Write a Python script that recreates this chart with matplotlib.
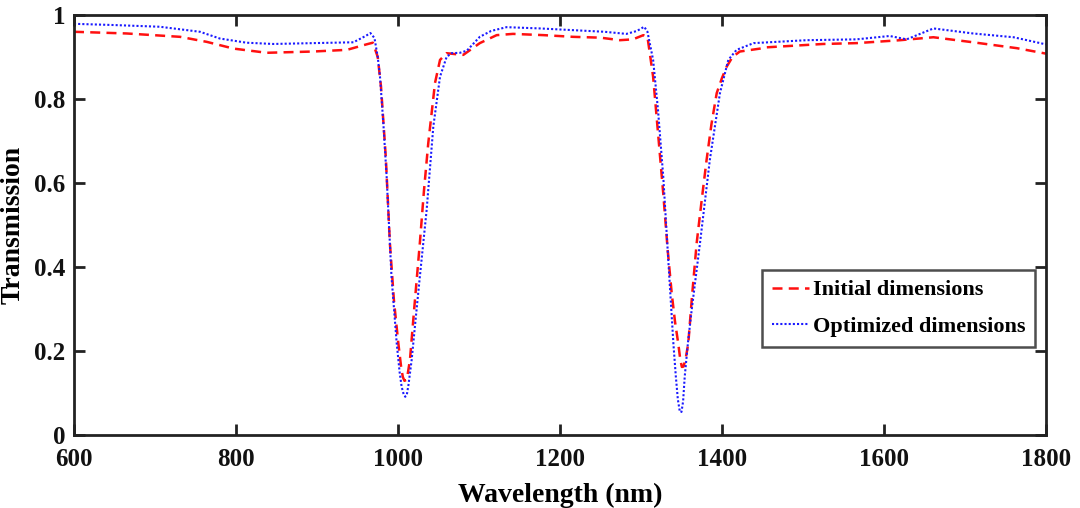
import matplotlib
matplotlib.use("Agg")
import matplotlib.pyplot as plt

# Initial dimensions (red dashed)
wl_init = [600, 665, 731, 764, 797, 838, 895, 937, 961, 969, 975, 979, 985, 990, 995,
           1000.4, 1004, 1006, 1008, 1010, 1012, 1014.8, 1020, 1027, 1032, 1037.4, 1045.7,
           1051.9, 1060, 1070, 1080.6, 1101, 1121.8, 1142, 1180, 1216, 1250, 1274, 1290,
           1303, 1308, 1315, 1321, 1327.5, 1333, 1337.9, 1342, 1346, 1348.5, 1350.5, 1352.5,
           1355, 1358.4, 1363, 1368.7, 1375, 1381, 1387, 1393.5, 1400, 1405.8, 1413, 1422,
           1447, 1455, 1525, 1566, 1620, 1661, 1710, 1764, 1800]
t_init = [0.960, 0.956, 0.948, 0.936, 0.920, 0.910, 0.913, 0.917, 0.930, 0.934, 0.900,
          0.830, 0.660, 0.457, 0.320, 0.219, 0.160, 0.138, 0.129, 0.131, 0.145, 0.179,
          0.300, 0.457, 0.580, 0.695, 0.838, 0.893, 0.909, 0.907, 0.905, 0.933, 0.952,
          0.955, 0.952, 0.948, 0.946, 0.940, 0.942, 0.952, 0.948, 0.853, 0.720, 0.575,
          0.440, 0.338, 0.270, 0.218, 0.180, 0.162, 0.163, 0.180, 0.218, 0.330, 0.456,
          0.560, 0.655, 0.740, 0.814, 0.850, 0.877, 0.900, 0.913, 0.920, 0.923, 0.931,
          0.933, 0.940, 0.947, 0.935, 0.921, 0.908]

# Optimized dimensions (blue dotted)
wl_opt = [600, 650, 706, 755.6, 780, 813, 846, 895, 945, 960, 966, 971, 975, 977.8, 982,
          986, 992, 998.4, 1002, 1004.5, 1007, 1009, 1011, 1013, 1016.9, 1022, 1027, 1035.4,
          1043.6, 1051.9, 1060, 1066, 1076.5, 1085, 1101, 1115, 1134, 1175, 1225, 1255, 1282,
          1295, 1304, 1308, 1315, 1321, 1327.5, 1333.7, 1340, 1343, 1345.5, 1348, 1350,
          1352, 1354, 1358, 1362.6, 1372.8, 1385, 1397.5, 1407.8, 1418, 1439, 1504.6, 1566,
          1607, 1628, 1661, 1710, 1760, 1800]
t_opt = [0.979, 0.976, 0.972, 0.960, 0.944, 0.934, 0.931, 0.933, 0.935, 0.950, 0.957,
         0.945, 0.900, 0.853, 0.740, 0.615, 0.377, 0.219, 0.150, 0.115, 0.097, 0.091,
         0.097, 0.120, 0.179, 0.280, 0.377, 0.536, 0.734, 0.853, 0.900, 0.909, 0.910,
         0.915, 0.948, 0.962, 0.971, 0.968, 0.963, 0.960, 0.955, 0.962, 0.972, 0.960,
         0.893, 0.774, 0.615, 0.417, 0.218, 0.140, 0.085, 0.055, 0.055, 0.080, 0.139,
         0.220, 0.298, 0.456, 0.655, 0.814, 0.893, 0.917, 0.933, 0.940, 0.942, 0.950,
         0.942, 0.968, 0.956, 0.947, 0.930]

xticks = [600, 800, 1000, 1200, 1400, 1600, 1800]
yticks = [0, 0.2, 0.4, 0.6, 0.8, 1]
ytick_labels = ["0", "0.2", "0.4", "0.6", "0.8", "1"]

plt.rcParams['font.family'] = ['Liberation Serif', 'DejaVu Serif']
plt.rcParams['font.weight'] = 'bold'

fig = plt.figure(figsize=(10.8, 5.08), dpi=100)
ax = fig.add_axes([0.0685, 0.1437, 0.9, 0.8268])

ax.plot(wl_init, t_init, color='#ff1010', linestyle=(0, (4, 2.5)), linewidth=1.8,
        label='Initial dimensions')
ax.plot(wl_opt, t_opt, color='#1a1aff', linestyle=(0, (1, 1)), linewidth=1.5,
        label='Optimized dimensions')

ax.set_xlim(600, 1800)
ax.set_ylim(0, 1)
ax.set_xticks(xticks)
ax.set_xticklabels([str(v) for v in xticks])
ax.set_yticks(yticks)
ax.set_yticklabels(ytick_labels)

for s in ax.spines.values():
    s.set_linewidth(2)
    s.set_color('#222222')

ax.tick_params(direction='in', length=8, width=2, top=True, right=True,
               labelsize=18, colors='#222222', labelcolor='#111111')
ax.tick_params(axis='x', pad=9)
ax.tick_params(axis='y', pad=6)

ax.set_ylabel('Transmission', fontsize=20, fontweight='bold', labelpad=6)
ax.set_xlabel('Wavelength (nm)', fontsize=20, fontweight='bold', labelpad=9)

leg = ax.legend(loc='upper right', bbox_to_anchor=(0.989, 0.393), borderaxespad=0,
                fancybox=False, frameon=True, fontsize=16, handlelength=1.7,
                handletextpad=0.15, borderpad=0.45, labelspacing=0.7)
leg.get_frame().set_edgecolor('#222222')
leg.get_frame().set_linewidth(1.8)
for t in leg.get_texts():
    t.set_fontweight('bold')

fig.savefig('out.png', dpi=100)
